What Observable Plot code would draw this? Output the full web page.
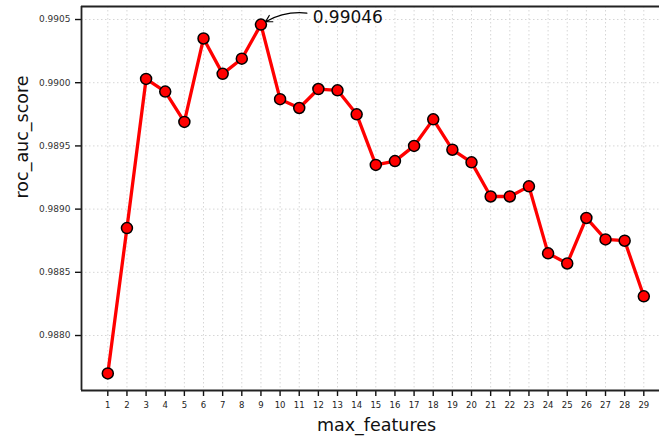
<!DOCTYPE html>
<html>
<head>
<meta charset="utf-8">
<script src="https://cdn.jsdelivr.net/npm/d3@7"></script>
<script src="https://cdn.jsdelivr.net/npm/@observablehq/plot@0.6"></script>
<style>
  body { margin: 0; background: #fff; }
  svg { display: block; }
</style>
</head>
<body>
<div id="chart"></div>
<script>
// Cross-validated ROC AUC for each max_features setting
const maxFeatures = [1, 2, 3, 4, 5, 6, 7, 8, 9, 10, 11, 12, 13, 14, 15, 16, 17, 18, 19, 20, 21, 22, 23, 24, 25, 26, 27, 28, 29];
const rocAucScore = [
  0.98770, 0.98885, 0.99003, 0.98993, 0.98969, 0.99035, 0.99007, 0.99019, 0.99046, 0.98987,
  0.98980, 0.98995, 0.98994, 0.98975, 0.98935, 0.98938, 0.98950, 0.98971, 0.98947, 0.98937,
  0.98910, 0.98910, 0.98918, 0.98865, 0.98857, 0.98893, 0.98876, 0.98875, 0.98831
];
const yTicks = [0.9880, 0.9885, 0.9890, 0.9895, 0.9900, 0.9905];
const xTicks = maxFeatures;
const xLabel = "max_features";
const yLabel = "roc_auc_score";

const rows = maxFeatures.map((m, i) => ({m, score: rocAucScore[i]}));
const best = rows.reduce((a, b) => (b.score > a.score ? b : a));
// where the callout text sits, in data units
const callout = {x: 11.7, y: 0.990516};

const xDomain = [-0.374, 29.82];
const yDomain = [0.987565, 0.990603];
const font = "DejaVu Sans, sans-serif";

const chart = Plot.plot({
  width: 659,
  height: 438,
  marginLeft: 81,
  marginRight: 0,
  marginTop: 6,
  marginBottom: 48,
  style: {fontFamily: font, background: "#fff"},
  x: {domain: xDomain},
  y: {domain: yDomain},
  marks: [
    Plot.gridX(xTicks, {stroke: "#d6d6d6", strokeOpacity: 1, strokeDasharray: "1.5,2.5", strokeWidth: 1}),
    Plot.gridY(yTicks, {stroke: "#d6d6d6", strokeOpacity: 1, strokeDasharray: "1.5,2.5", strokeWidth: 1}),
    Plot.axisX(xTicks, {tickSize: 6, tickPadding: 5, fontSize: 8.5, stroke: "#111", strokeWidth: 1.4, fill: "#222", label: null, tickFormat: d => String(d)}),
    Plot.axisY(yTicks, {tickSize: 6, tickPadding: 5, fontSize: 9, stroke: "#111", strokeWidth: 1.4, fill: "#333", label: null, tickFormat: d3.format(".4f")}),
    // left, top and bottom spines
    Plot.ruleX([xDomain[0]], {stroke: "#222", strokeWidth: 1.8}),
    Plot.ruleY([yDomain[0], yDomain[1]], {stroke: "#222", strokeWidth: 1.8}),
    Plot.line(rows, {x: "m", y: "score", stroke: "#ff0000", strokeWidth: 3.3}),
    Plot.dot(rows, {x: "m", y: "score", r: 5.5, fill: "#ff0000", stroke: "#000", strokeWidth: 1.5}),
    Plot.arrow([best], {
      x1: () => callout.x - 0.3, y1: () => callout.y + 0.000035,
      x2: "m", y2: "score",
      bend: -20, insetEnd: 5.5, headLength: 9, stroke: "#000", strokeWidth: 1.2
    }),
    Plot.text([best], {
      x: () => callout.x, y: () => callout.y,
      text: d => d3.format(".5f")(d.score),
      textAnchor: "start", lineAnchor: "middle", fontSize: 17, fill: "#111"
    }),
    Plot.text([xLabel], {frameAnchor: "bottom", dx: 6, dy: 35, fontSize: 17.5, fill: "#111", lineAnchor: "middle"}),
    Plot.text([yLabel], {frameAnchor: "left", dx: -59, rotate: -90, fontSize: 17.5, fill: "#111", lineAnchor: "middle"})
  ]
});

document.getElementById("chart").appendChild(chart);
</script>
</body>
</html>
